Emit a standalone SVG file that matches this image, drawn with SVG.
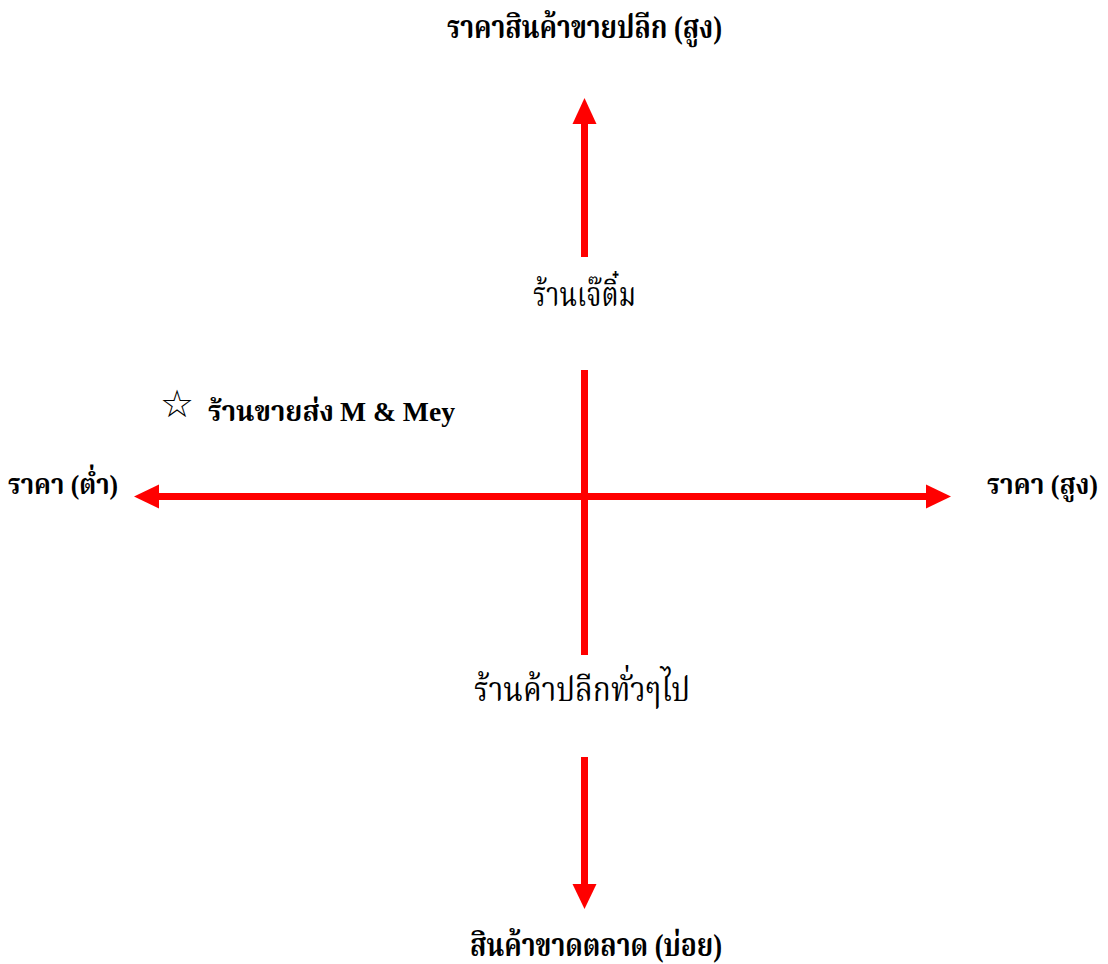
<svg xmlns="http://www.w3.org/2000/svg" width="1108" height="964" viewBox="0 0 1108 964">
<style>
text{font-family:"Liberation Serif","Noto Serif Thai","Noto Sans Thai","DejaVu Serif",serif;font-size:32px;fill:#000}
.b{font-weight:bold}
.r{font-size:34px}
.s{font-size:28px}
.ax{stroke:#ff0000;stroke-width:7;fill:none}
.hd{fill:#ff0000}
</style>
<rect width="1108" height="964" fill="#fff"/>
<g id="connectors">
<line class="ax" x1="584.5" y1="120" x2="584.5" y2="257"/>
<polygon class="hd" points="584.5,98 572.5,124 596.5,124"/>
<line class="ax" x1="584.5" y1="370" x2="584.5" y2="655"/>
<line class="ax" x1="584.5" y1="757" x2="584.5" y2="886"/>
<polygon class="hd" points="584.5,909 572.5,884 596.5,884"/>
<line class="ax" x1="156" y1="496.5" x2="928" y2="496.5"/>
<polygon class="hd" points="134,496.5 159,484.5 159,508.5"/>
<polygon class="hd" points="951,496.5 926,484.5 926,508.5"/>
</g>
<g id="top-label"><text class="b" x="447" y="38" textLength="275" lengthAdjust="spacingAndGlyphs">ราคาสินค้าขายปลีก (สูง)</text></g>
<g id="bottom-label"><text class="b" x="470" y="956" textLength="252" lengthAdjust="spacingAndGlyphs">สินค้าขาดตลาด (บ่อย)</text></g>
<g id="left-label"><text class="b s" x="8" y="494" textLength="110" lengthAdjust="spacingAndGlyphs">ราคา (ต่ำ)</text></g>
<g id="right-label"><text class="b s" x="987" y="494" textLength="111" lengthAdjust="spacingAndGlyphs">ราคา (สูง)</text></g>
<g id="jeetim"><text class="r" x="533" y="306" textLength="103" lengthAdjust="spacingAndGlyphs">ร้านเจ๊ติ๋ม</text></g>
<g id="retail"><text class="r" x="474" y="701" textLength="216" lengthAdjust="spacingAndGlyphs">ร้านค้าปลีกทั่วๆไป</text></g>
<g id="mmey">
<text x="160" y="417" style="font-size:38px;font-family:'DejaVu Sans',sans-serif">☆</text>
<text class="b s" x="208" y="421" textLength="126" lengthAdjust="spacingAndGlyphs">ร้านขายส่ง</text>
<text class="b s" x="340" y="421" textLength="115" lengthAdjust="spacingAndGlyphs">M &amp; Mey</text>
</g>
</svg>
